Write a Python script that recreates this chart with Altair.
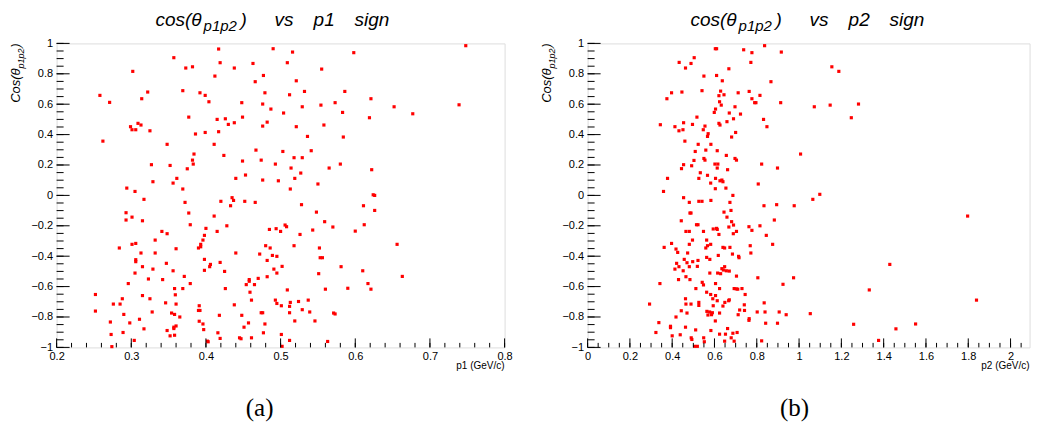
import altair as alt
import pandas as pd

# ---------------- data ----------------
p1 = [0.258,0.271,0.262,0.302,0.299,0.301,0.306,0.309,0.313,0.314,0.322,0.325,0.348,0.357,0.369,0.373,0.382,0.377,0.386,0.384,
      0.392,0.399,0.404,0.399,0.412,0.417,0.419,0.415,0.417,0.411,0.424,0.426,0.430,0.438,0.438,0.448,0.449,0.463,0.466,0.467,
      0.476,0.477,0.479,0.476,0.482,0.487,0.490,0.504,0.503,0.509,0.512,0.516,0.521,0.521,0.518,0.529,0.529,0.532,0.536,0.541,
      0.554,0.555,0.558,0.573,0.583,0.586,0.584,0.598,0.619,0.621,0.652,0.677,0.739,0.748,
      0.327,0.352,0.382,0.383,0.375,0.449,0.474,0.493,0.514,0.527,0.565,0.580,0.622,0.329,0.361,0.356,0.440,0.453,0.476,0.497,
      0.519,0.550,0.294,0.305,0.369,0.513,0.624,0.626,0.317,0.372,0.420,0.435,0.437,0.433,0.452,0.466,0.528,0.611,0.626,0.293,
      0.377,0.548,0.301,0.411,0.293,0.315,0.379,0.428,0.559,0.612,0.400,0.341,0.348,0.415,0.485,0.494,0.506,0.508,0.500,0.543,
      0.570,0.600,0.398,0.526,0.332,0.396,0.393,0.393,0.390,0.284,0.301,0.306,0.360,0.480,0.486,0.518,0.552,0.656,0.313,0.332,
      0.440,0.472,0.489,0.495,0.553,0.556,0.306,0.306,0.398,0.482,0.347,0.406,0.405,0.419,0.315,0.329,0.356,0.398,0.425,0.491,
      0.502,0.495,0.581,0.610,0.305,0.551,0.371,0.663,0.482,
      0.323,0.342,0.470,0.379,0.296,0.617,0.252,0.252,0.272,0.273,0.274,0.276,0.285,0.288,0.290,0.289,0.298,0.304,0.311,0.315,
      0.317,0.325,0.328,0.346,0.348,0.352,0.354,0.357,0.357,0.358,0.358,0.359,0.360,0.360,0.358,0.365,0.369,0.390,0.392,0.391,
      0.391,0.396,0.397,0.402,0.403,0.416,0.418,0.419,0.426,0.438,0.445,0.447,0.448,0.451,0.454,0.457,0.458,0.458,0.459,0.461,
      0.461,0.465,0.474,0.476,0.477,0.479,0.493,0.495,0.501,0.501,0.502,0.509,0.512,0.512,0.512,0.513,0.519,0.524,0.529,0.537,
      0.539,0.546,0.560,0.563,0.571,0.573,0.590,0.621]
cos1 = [0.658,0.612,0.357,0.816,0.452,0.432,0.432,0.474,0.463,0.636,0.680,0.425,0.336,0.906,0.689,0.838,0.846,0.515,0.404,0.272,
        0.675,0.658,0.616,0.414,0.785,0.963,0.873,0.500,0.419,0.336,0.263,0.504,0.467,0.478,0.838,0.610,0.515,0.868,0.748,0.298,
        0.601,0.789,0.675,0.456,0.482,0.568,0.965,0.542,0.289,0.873,0.662,0.943,0.754,0.452,0.248,0.248,0.583,0.684,0.388,0.294,
        0.594,0.831,0.463,0.610,0.546,0.684,0.384,0.939,0.511,0.636,0.583,0.537,0.596,0.985,
        0.202,0.197,0.232,0.206,0.175,0.226,0.232,0.206,0.180,0.147,0.180,0.206,0.169,0.090,0.112,0.081,0.112,0.134,0.101,0.096,
        0.112,0.075,0.048,0.026,0.042,0.042,0.004,0.000,-0.026,-0.046,-0.039,-0.015,-0.033,-0.068,-0.039,-0.046,-0.061,-0.068,-0.099,-0.114,
        -0.116,-0.110,-0.143,-0.136,-0.162,-0.167,-0.193,-0.200,-0.173,-0.193,-0.217,-0.237,-0.252,-0.237,-0.224,-0.219,-0.195,-0.206,-0.237,-0.228,
        -0.208,-0.235,-0.263,-0.257,-0.294,-0.294,-0.322,-0.338,-0.346,-0.346,-0.322,-0.316,-0.351,-0.331,-0.346,-0.331,-0.346,-0.322,-0.379,-0.379,
        -0.379,-0.386,-0.395,-0.401,-0.410,-0.410,-0.423,-0.436,-0.421,-0.428,-0.447,-0.454,-0.469,-0.441,-0.469,-0.485,-0.496,-0.493,-0.500,-0.485,
        -0.467,-0.511,-0.469,-0.496,-0.511,-0.515,-0.533,-0.533,-0.535,
        -0.550,-0.554,-0.546,-0.580,-0.580,-0.580,-0.652,-0.761,-0.833,-0.915,-0.995,-0.715,-0.715,-0.680,-0.783,-0.902,-0.839,-0.954,-0.815,-0.659,
        -0.878,-0.680,-0.767,-0.707,-0.889,-0.924,-0.774,-0.876,-0.867,-0.920,-0.613,-0.654,-0.715,-0.859,-0.783,-0.800,-0.613,-0.757,-0.757,-0.726,
        -0.828,-0.846,-0.883,-0.959,-0.963,-0.904,-0.789,-0.941,-0.613,-0.720,-0.937,-0.943,-0.789,-0.867,-0.587,-0.839,-0.554,-0.565,-0.637,-0.689,
        -0.937,-0.587,-0.772,-0.772,-0.904,-0.846,-0.689,-0.711,-0.915,-0.726,-0.993,-0.622,-0.954,-0.730,-0.772,-0.704,-0.826,-0.698,-0.752,-0.689,
        -0.767,-0.826,-0.617,-0.961,-0.774,-0.780,-0.611,-0.617]

p2 = [0.344,0.375,0.397,0.413,0.433,0.432,0.446,0.451,0.454,0.460,0.463,0.489,0.496,0.504,0.509,0.517,0.523,0.541,0.547,0.550,
      0.555,0.559,0.567,0.570,0.583,0.599,0.604,0.610,0.605,0.610,0.613,0.621,0.624,0.629,0.621,0.626,0.632,0.637,0.645,0.656,
      0.659,0.668,0.670,0.681,0.690,0.697,0.700,0.712,0.723,0.738,0.764,0.772,0.777,0.777,0.790,0.796,0.815,0.832,0.837,0.848,
      0.867,0.913,0.916,1.007,1.072,1.147,1.155,1.188,1.247,1.281,
      0.503,0.550,0.555,0.697,0.704,0.454,0.444,0.492,0.602,0.616,0.613,0.662,0.823,0.898,0.533,0.567,0.378,0.526,0.605,0.582,
      0.626,0.635,0.640,0.807,0.654,0.604,0.359,0.687,1.098,1.065,0.454,0.481,0.526,0.541,0.583,0.673,0.834,0.894,0.977,0.678,
      0.645,0.484,0.489,0.659,0.443,0.681,0.883,1.797,0.515,0.522,0.690,0.763,0.815,0.668,0.610,0.613,0.594,0.465,0.481,0.548,
      0.704,0.777,0.621,0.689,0.845,0.496,0.563,0.397,0.481,0.582,0.567,0.875,0.769,0.362,0.418,0.559,0.640,0.648,0.673,0.426,
      0.473,0.685,0.772,0.618,0.714,0.716,0.563,0.578,0.457,0.522,0.497,0.421,0.470,1.429,0.519,0.432,0.413,0.481,0.452,0.648,
      0.635,0.642,0.656,0.670,0.578,0.615,0.629,0.704,0.465,0.805,0.974,
      0.293,0.337,0.323,0.342,0.392,0.392,0.400,0.418,0.430,0.438,0.443,0.463,0.463,0.465,0.470,0.484,0.490,0.493,0.506,0.511,
      0.519,0.489,0.512,0.526,0.526,0.542,0.548,0.549,0.552,0.563,0.564,0.569,0.577,0.583,0.582,0.586,0.590,0.592,0.594,0.604,
      0.605,0.605,0.613,0.624,0.624,0.624,0.640,0.648,0.649,0.652,0.662,0.667,0.670,0.679,0.687,0.693,0.693,0.703,0.710,0.707,
      0.712,0.719,0.730,0.741,0.742,0.745,0.763,0.764,0.802,0.823,0.835,0.839,0.842,0.898,0.906,0.924,0.939,1.053,1.258,1.332,
      1.376,1.458,1.551,1.839]
cos2 = [0.465,0.636,0.675,0.452,0.875,0.425,0.680,0.432,0.478,0.357,0.838,0.868,0.467,0.906,0.289,0.515,0.336,0.689,0.432,0.785,
        0.456,0.298,0.388,0.406,0.336,0.546,0.965,0.965,0.568,0.789,0.294,0.656,0.616,0.686,0.474,0.463,0.594,0.754,0.662,0.263,
        0.485,0.833,0.542,0.384,0.504,0.583,0.414,0.675,0.535,0.958,0.684,0.875,0.939,0.636,0.610,0.610,0.658,0.500,0.985,0.452,
        0.748,0.610,0.943,0.272,0.583,0.594,0.846,0.816,0.511,0.601,
        0.230,0.243,0.232,0.243,0.232,0.202,0.176,0.195,0.206,0.206,0.180,0.169,0.206,0.180,0.149,0.132,0.112,0.112,0.112,0.081,
        0.096,0.101,0.090,0.075,0.048,0.044,0.026,0.000,0.007,-0.026,-0.015,-0.046,-0.039,-0.039,-0.033,-0.046,-0.068,-0.061,-0.068,-0.099,
        -0.110,-0.116,-0.116,-0.143,-0.167,-0.173,-0.162,-0.136,-0.193,-0.193,-0.195,-0.206,-0.200,-0.208,-0.217,-0.224,-0.221,-0.237,-0.237,-0.237,
        -0.237,-0.230,-0.257,-0.252,-0.263,-0.294,-0.294,-0.316,-0.322,-0.322,-0.331,-0.322,-0.331,-0.342,-0.353,-0.346,-0.342,-0.346,-0.342,-0.375,
        -0.379,-0.386,-0.379,-0.395,-0.401,-0.410,-0.408,-0.421,-0.421,-0.428,-0.436,-0.447,-0.443,-0.454,-0.467,-0.469,-0.485,-0.469,-0.496,-0.469,
        -0.482,-0.491,-0.496,-0.498,-0.511,-0.511,-0.515,-0.531,-0.535,-0.542,-0.542,
        -0.715,-0.837,-0.902,-0.580,-0.861,-0.870,-0.924,-0.800,-0.554,-0.917,-0.759,-0.680,-0.867,-0.715,-0.774,-0.554,-0.937,-0.948,-0.993,-0.885,
        -0.993,-0.715,-0.613,-0.704,-0.724,-0.572,-0.589,-0.937,-0.963,-0.637,-0.763,-0.787,-0.767,-0.889,-0.652,-0.785,-0.772,-0.680,-0.726,-0.826,
        -0.659,-0.580,-0.693,-0.613,-0.774,-0.913,-0.728,-0.959,-0.704,-0.913,-0.876,-0.693,-0.687,-0.937,-0.907,-0.959,-0.613,-0.615,-0.617,-0.902,
        -0.785,-0.754,-0.613,-0.720,-0.757,-0.652,-0.822,-0.811,-0.767,-0.957,-0.707,-0.767,-0.841,-0.841,-0.767,-0.585,-0.785,-0.778,-0.848,-0.622,
        -0.954,-0.878,-0.846,-0.689]

y_labels = [-1, -0.8, -0.6, -0.4, -0.2, 0, 0.2, 0.4, 0.6, 0.8, 1]
x1_labels = [0.2, 0.3, 0.4, 0.5, 0.6, 0.7, 0.8]
x2_labels = [0, 0.2, 0.4, 0.6, 0.8, 1, 1.2, 1.4, 1.6, 1.8, 2]

SANS = "Liberation Sans, Helvetica, Arial, sans-serif"
SERIF = "Liberation Serif, Times New Roman, serif"
H = 304


def ticks(lo, hi, step):
    out = []
    i = 0
    while True:
        v = round(lo + i * step, 4)
        if v > hi + 1e-9:
            break
        out.append(v)
        i += 1
    return out


def txt(t, x, y, size, align="left", baseline="alphabetic", angle=0, italic=True, font=SANS):
    kw = dict(text=t, fontSize=size, align=align, baseline=baseline, font=font, color="black")
    if italic:
        kw["fontStyle"] = "italic"
    if angle:
        kw["angle"] = angle
    return alt.Chart(alt.Data(values=[{}])).mark_text(**kw).encode(x=alt.value(x), y=alt.value(y))


def panel(px, py, xdom, xlab, xmajor_step, xminor_step, W, pname, letter, s):
    xs = alt.Scale(domain=xdom, nice=False, zero=False)
    ys = alt.Scale(domain=[-1, 1], nice=False, zero=False)
    xax = alt.Axis(values=xlab, format="~g", ticks=False, tickSize=0, domain=False, grid=False,
                   labelFont=SANS, labelFontSize=11, labelColor="black", labelPadding=3,
                   labelFlush=False, labelOverlap=False, title=None)
    yax = alt.Axis(values=y_labels, format="~g", ticks=False, tickSize=0, domain=False, grid=False,
                   labelFont=SANS, labelFontSize=11, labelColor="black", labelPadding=4,
                   labelFlush=False, labelOverlap=False, title=None)
    df = pd.DataFrame({"p": px, "c": py})
    pts = alt.Chart(df).mark_square(size=10, color="#ff0000", opacity=1, filled=True).encode(
        x=alt.X("p:Q", scale=xs, axis=xax), y=alt.Y("c:Q", scale=ys, axis=yax))

    ymaj = alt.Chart(pd.DataFrame({"v": y_labels})).mark_rule(color="black", strokeWidth=1).encode(
        y=alt.Y("v:Q", scale=ys, axis=yax), x=alt.value(0), x2=alt.value(13))
    ymin = alt.Chart(pd.DataFrame({"v": ticks(-1, 1, 0.05)})).mark_rule(color="black", strokeWidth=1).encode(
        y=alt.Y("v:Q", scale=ys, axis=yax), x=alt.value(0), x2=alt.value(7))
    xmaj = alt.Chart(pd.DataFrame({"v": ticks(xdom[0], xdom[1], xmajor_step)})).mark_rule(color="black", strokeWidth=1).encode(
        x=alt.X("v:Q", scale=xs, axis=xax), y=alt.value(H), y2=alt.value(H - 9))
    xmin = alt.Chart(pd.DataFrame({"v": ticks(xdom[0], xdom[1], xminor_step)})).mark_rule(color="black", strokeWidth=1).encode(
        x=alt.X("v:Q", scale=xs, axis=xax), y=alt.value(H), y2=alt.value(H - 4.5))

    texts = [
        txt("cos(θ", 145 + s, -17, 19, align="right"),
        txt("p1p2", 147 + s, -12, 15),
        txt(")", 184 + s, -17, 19),
        txt("vs", 218 + s, -17, 19),
        txt(pname, 257 + s, -17, 19),
        txt("sign", 298 + s, -17, 19),
        # y title (rotated)
        txt(")", -37, 0, 13, align="right", angle=270),
        txt("p1p2", -33, 5, 9, align="right", angle=270),
        txt("Cos(θ", -37, 25, 13, align="right", angle=270),
        # x title
        txt(pname + " (GeV/c)", W, 326, 10, align="right", italic=False),
        # panel letter
        txt(letter, 203 + s, 373, 25, align="center", italic=False, font=SERIF),
    ]
    return alt.layer(pts, ymaj, ymin, xmaj, xmin, *texts).properties(width=W, height=H)


left = panel(p1, cos1, [0.2, 0.8], x1_labels, 0.1, 0.02, 448, "p1", "(a)", 0)
right = panel(p2, cos2, [0, 2.09], x2_labels, 0.2, 0.05, 442, "p2", "(b)", 4)

chart = alt.hconcat(left, right, spacing=83, bounds="flush").properties(
    padding={"left": 0.6, "top": 2.4, "right": 0, "bottom": 0}
).configure_view(stroke="#555555", strokeWidth=1).configure(background="white")

chart.save("out.html", embed_options={"renderer": "svg", "actions": False})
